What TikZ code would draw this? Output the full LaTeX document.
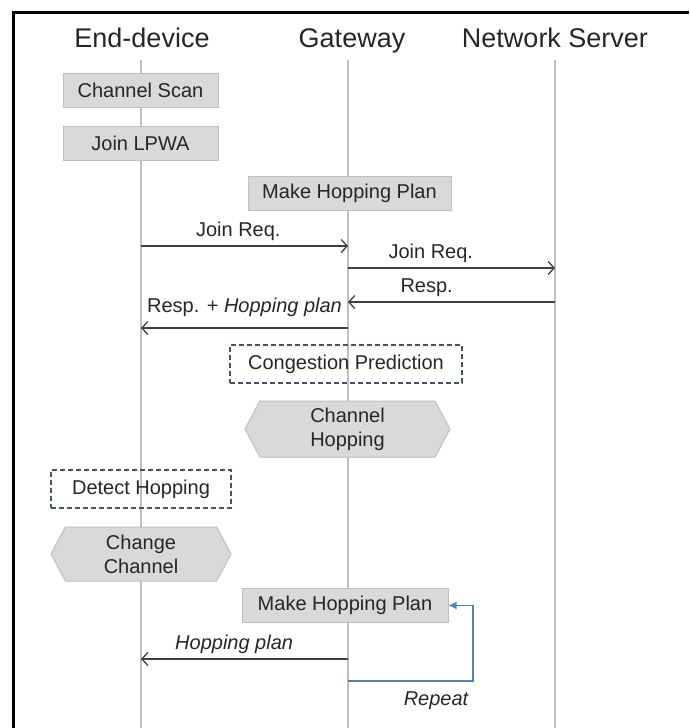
\documentclass[tikz,border=0pt]{standalone}
\usepackage{fontspec}
\setmainfont{Liberation Sans}
\usetikzlibrary{shapes.symbols,arrows.meta}
\definecolor{lifegray}{HTML}{BFBFBF}
\definecolor{boxfill}{HTML}{D9D9D9}
\definecolor{boxline}{HTML}{BFBFBF}
\definecolor{txt}{HTML}{262626}
\definecolor{dashblue}{HTML}{44546A}
\definecolor{loopblue}{HTML}{4F81BD}
\definecolor{msgline}{HTML}{404040}
\tikzset{
  title/.style={font=\fontsize{27}{31}\selectfont, text=txt, inner sep=0pt, anchor=base},
  lifeline/.style={draw=lifegray, line width=1.8pt},
  procbox/.style={rectangle, fill=boxfill, draw=boxline, line width=1pt, minimum height=34pt, inner sep=2pt, font=\fontsize{20}{23}\selectfont, text=txt},
  dashbox/.style={rectangle, draw=dashblue, dashed, dash pattern=on 5pt off 3pt, line width=1.2pt, inner sep=2pt, font=\fontsize{20}{23}\selectfont, text=txt},
  hexbox/.style={signal, signal to=east and west, signal pointer angle=124, fill=boxfill, draw=boxline, line width=1pt, inner sep=2pt, align=center, font=\fontsize{20}{24}\selectfont, text=txt},
  msg/.style={draw=msgline, line width=1.3pt, -{Straight Barb[length=6pt,width=13pt]}},
  lbl/.style={font=\fontsize{20}{23}\selectfont, text=txt, inner sep=0pt, above=5pt},
  loopline/.style={draw=loopblue, line width=1.6pt, -{Latex[length=8pt,width=8pt]}},
}
\begin{document}
\begin{tikzpicture}[x=1pt,y=-1pt]
\useasboundingbox (0,0) rectangle (689,728);
% frame
\coordinate (fbl) at (13.5,728);
\coordinate (ftl) at (13.5,12.5);
\coordinate (ftr) at (689,12.5);
\draw[line width=2.4pt] (fbl) -- (ftl) -- (ftr);
% titles
\node[title] (ed) at (142,47.5) {End-device};
\node[title] (gw) at (352,47.5) {Gateway};
\node[title] (ns) at (555,47.5) {Network Server};
% lifelines
\coordinate (edt) at (141,60); \coordinate (edb) at (141,728);
\coordinate (gwt) at (348,60); \coordinate (gwb) at (348,728);
\coordinate (nst) at (555,60); \coordinate (nsb) at (555,728);
\draw[lifeline] (edt) -- (edb);
\draw[lifeline] (gwt) -- (gwb);
\draw[lifeline] (nst) -- (nsb);
% process boxes
\node[procbox, minimum width=155pt] (cs) at (140.5,90.5) {Channel Scan};
\node[procbox, minimum width=155pt] (jl) at (140.5,143) {Join LPWA};
\node[procbox, minimum width=203pt] (mhp1) at (349.5,193) {Make Hopping Plan};
% messages
\coordinate (m1s) at (141,246); \coordinate (m1e) at (348,246);
\draw[msg] (m1s) -- node[lbl, pos=0.47] {Join Req.} (m1e);
\coordinate (m2s) at (348,268); \coordinate (m2e) at (555,268);
\draw[msg] (m2s) -- node[lbl, pos=0.4] {Join Req.} (m2e);
\coordinate (m3s) at (555,302); \coordinate (m3e) at (348,302);
\draw[msg] (m3s) -- node[lbl, pos=0.62] {Resp.} (m3e);
\coordinate (m4s) at (348,328); \coordinate (m4e) at (141,328);
\draw[msg] (m4s) -- node[lbl, pos=0.5, above=6pt] {Resp. + \textit{Hopping plan}} (m4e);
% congestion prediction
\node[dashbox, minimum width=232pt, minimum height=38pt] (cp) at (346,364) {Congestion Prediction};
\node[hexbox, minimum width=205pt, minimum height=56pt] (chh) at (347.5,429) {Channel\\Hopping};
\node[dashbox, minimum width=180pt, minimum height=38pt] (dh) at (141,489) {Detect Hopping};
\node[hexbox, minimum width=180pt, minimum height=54pt] (cc) at (141,554) {Change\\Channel};
\node[procbox, minimum width=206pt] (mhp2) at (345,605.5) {Make Hopping Plan};
% hopping plan message
\coordinate (m5s) at (348,659); \coordinate (m5e) at (141,659);
\draw[msg] (m5s) -- node[lbl, pos=0.55] {\textit{Hopping plan}} (m5e);
% repeat loop
\coordinate (r1) at (348,681); \coordinate (r2) at (473,681); \coordinate (r3) at (473,605.5);
\draw[loopline] (r1) -- (r2) -- (r3) -- (mhp2.east);
\node[font=\fontsize{20}{23}\selectfont\itshape, text=txt, inner sep=0pt] (rep) at (436,701) {Repeat};
\end{tikzpicture}
\end{document}
